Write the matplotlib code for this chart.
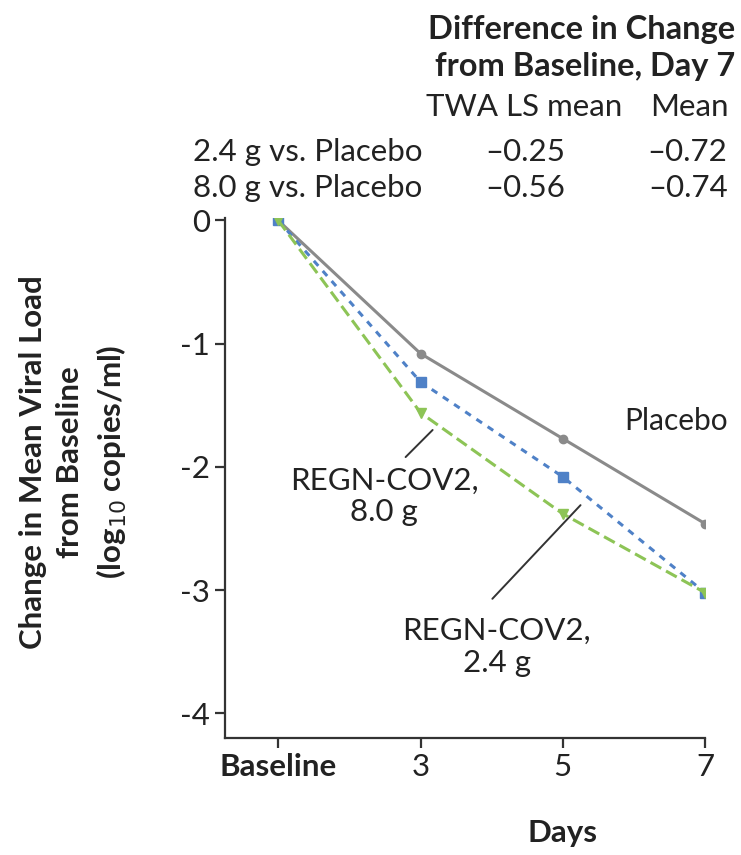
import matplotlib.pyplot as plt

plt.rcParams['font.family'] = ['Lato', 'DejaVu Sans']

# x positions: Baseline plotted at 1 so days 3, 5, 7 are evenly spaced
days = [1, 3, 5, 7]
day_labels = ['Baseline', '3', '5', '7']

placebo = [0.0, -1.08, -1.77, -2.46]
regn_24 = [0.0, -1.31, -2.08, -3.02]
regn_80 = [0.0, -1.56, -2.38, -3.02]

row_labels = ['2.4 g vs. Placebo', '8.0 g vs. Placebo']
twa_ls_mean = ['\u20130.25', '\u20130.56']
mean_diff = ['\u20130.72', '\u20130.74']

GREY = '#8a8a8a'
BLUE = '#4f81c7'
GREEN = '#8dc456'
INK = '#333333'
TXT = '#222222'
FS = 22.5

fig = plt.figure(figsize=(7.41, 8.55), dpi=100)
ax = fig.add_axes([0.3036, 0.1368, 0.6478, 0.6082])

ax.plot(days, placebo, '-', color=GREY, lw=2.2, marker='o', ms=6, zorder=3)
ax.plot(days, regn_24, color=BLUE, lw=2.2, ls=(0, (2.2, 2.2)), marker='s', ms=6.5, zorder=4)
ax.plot(days, regn_80, color=GREEN, lw=2.2, ls=(0, (4, 1.8)), marker='v', ms=6.5, zorder=5)

ax.set_xlim(0.25, 7)
ax.set_ylim(-4.2, 0.02)
ax.set_xticks(days)
ax.set_xticklabels(day_labels, fontsize=FS)
ax.get_xticklabels()[0].set_fontweight('bold')
ax.set_yticks([0, -1, -2, -3, -4])
ax.set_yticklabels(['0', '-1', '-2', '-3', '-4'], fontsize=FS)

for side in ['top', 'right']:
    ax.spines[side].set_visible(False)
for side in ['left', 'bottom']:
    ax.spines[side].set_color(INK)
    ax.spines[side].set_linewidth(1.6)
ax.tick_params(direction='out', length=7, width=1.6, color=INK, labelcolor=TXT, pad=4)

fig.text(563 / 741, 1 - 833 / 855, 'Days', fontsize=FS, fontweight='bold', color=TXT,
         ha='center', va='center')
fig.text(74 / 741, 1 - 462 / 855, 'Change in Mean Viral Load\nfrom Baseline\n(log$_{10}$ copies/ml)',
         fontsize=FS, fontweight='bold', color=TXT, rotation=90, ha='center', va='center',
         linespacing=1.38)

# series labels
ax.text(5.87, -1.63, 'Placebo', fontsize=21.5, color=TXT, ha='left', va='center')
ax.text(2.49, -2.24, 'REGN-COV2,\n8.0 g', fontsize=FS, color=TXT,
        ha='center', va='center', linespacing=1.15)
ax.text(4.07, -3.46, 'REGN-COV2,\n2.4 g', fontsize=FS, color=TXT,
        ha='center', va='center', linespacing=1.15)
ax.annotate('', xy=(3.17, -1.70), xytext=(2.79, -1.92),
            arrowprops=dict(arrowstyle='-', color=INK, lw=1.4, shrinkA=0, shrinkB=0))
ax.annotate('', xy=(5.25, -2.31), xytext=(4.01, -3.07),
            arrowprops=dict(arrowstyle='-', color=INK, lw=1.4, shrinkA=0, shrinkB=0))

# inset table at the top
fig.text(0.992, 1 - 48 / 855, 'Difference in Change\nfrom Baseline, Day 7', fontsize=23.5,
         fontweight='bold', color=TXT, ha='right', va='center', linespacing=1.33)
fig.text(0.707, 1 - 107 / 855, 'TWA LS mean', fontsize=FS, color=TXT, ha='center', va='center')
fig.text(0.93, 1 - 107 / 855, 'Mean', fontsize=FS, color=TXT, ha='center', va='center')
row_y = [1 - 152 / 855, 1 - 188 / 855]
for lab, a, b, y in zip(row_labels, twa_ls_mean, mean_diff, row_y):
    fig.text(0.57, y, lab, fontsize=FS, color=TXT, ha='right', va='center')
    fig.text(0.709, y, a, fontsize=FS, color=TXT, ha='center', va='center')
    fig.text(0.928, y, b, fontsize=FS, color=TXT, ha='center', va='center')

fig.savefig('out.png', dpi=100)
